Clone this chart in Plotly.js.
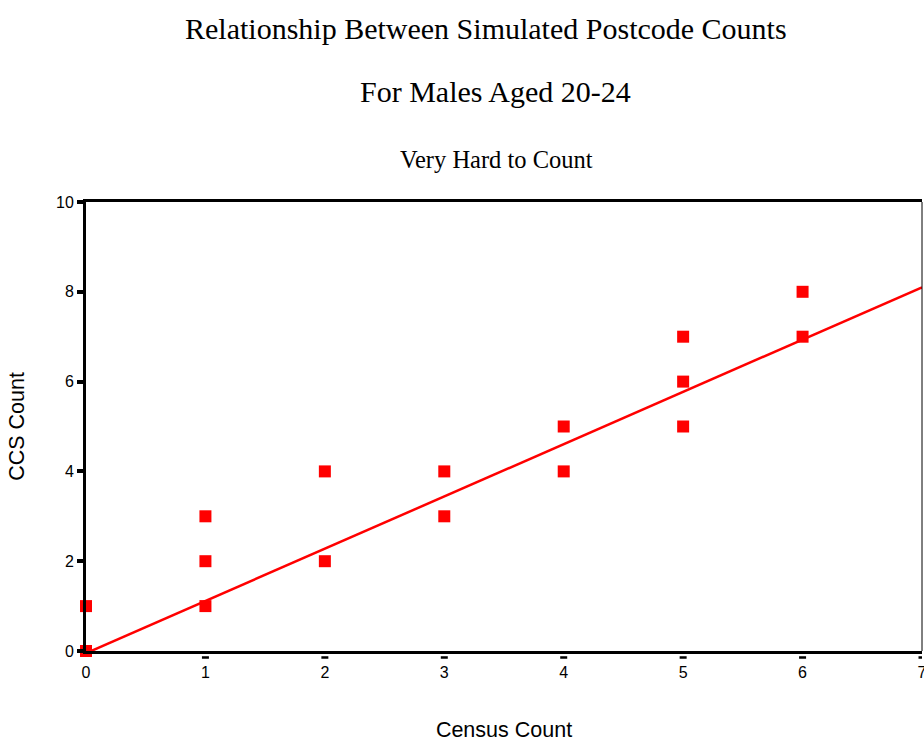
<!DOCTYPE html>
<html>
<head>
<meta charset="utf-8">
<script src="https://cdn.plot.ly/plotly-3.0.1.min.js"></script>
<style>html,body{margin:0;padding:0;background:#fff;}#chart{width:924px;height:742px;}</style>
</head>
<body>
<div id="chart"></div>
<script>
// Data
const censusCount = [0, 0, 1, 1, 1, 2, 2, 3, 3, 4, 4, 5, 5, 5, 6, 6];
const ccsCount    = [0, 1, 1, 2, 3, 2, 4, 3, 4, 4, 5, 5, 6, 7, 7, 8];
const fitX = [0, 7];
const fitY = [-0.05, 8.1];
const xTicks = [0, 1, 2, 3, 4, 5, 6, 7];
const yTicks = [0, 2, 4, 6, 8, 10];
const titleLines = ["Relationship Between Simulated Postcode Counts", "For Males Aged 20-24"];
const subtitle = "Very Hard to Count";

const W = 924, H = 742;
const margin = {l: 86, r: 2, t: 202, b: 91};
const plotW = W - margin.l - margin.r;
const plotH = H - margin.t - margin.b;
const xUnit = 7 / plotW;

const traces = [
  {
    x: fitX, y: fitY, mode: 'lines', type: 'scatter',
    line: {color: '#ff0000', width: 2.5}, hoverinfo: 'skip', cliponaxis: false
  },
  {
    x: censusCount, y: ccsCount, mode: 'markers', type: 'scatter',
    marker: {symbol: 'square', size: 12, color: '#ff0000', line: {width: 0}},
    cliponaxis: false
  }
];

// x tick dashes (horizontal) below axis, derived from tick array
const shapes = xTicks.filter(t => t > 0).map(t => ({
  type: 'line', xref: 'x', yref: 'paper',
  x0: t - 3.5 * xUnit, x1: t + 3.5 * xUnit,
  y0: -6.5 / plotH, y1: -6.5 / plotH,
  line: {color: '#000', width: 2.5}
}));
// thin right frame line
shapes.push({type: 'line', xref: 'paper', yref: 'paper', x0: 1, x1: 1, y0: 0, y1: 1,
  line: {color: '#000', width: 1}});

const serif = 'Liberation Serif, Times New Roman, serif';
const sans = 'Liberation Sans, Arial, sans-serif';

const layout = {
  width: W, height: H,
  margin: margin,
  paper_bgcolor: '#fff', plot_bgcolor: '#fff',
  showlegend: false,
  font: {family: sans, color: '#000'},
  xaxis: {
    range: [0, 7], tickvals: xTicks, ticktext: xTicks.map(String),
    showgrid: false, zeroline: false,
    showline: true, linewidth: 3, linecolor: '#000', mirror: true,
    ticks: 'outside', ticklen: 5, tickcolor: 'rgba(0,0,0,0)',
    ticklabeloverflow: 'allow',
    tickfont: {family: sans, size: 16, color: '#000'},
    title: {text: 'Census Count', font: {family: sans, size: 21.5, color: '#000'}, standoff: 44}
  },
  yaxis: {
    range: [0, 10], tickvals: yTicks, ticktext: yTicks.map(String),
    showgrid: false, zeroline: false,
    showline: true, linewidth: 3, linecolor: '#000', mirror: false,
    ticks: 'outside', ticklen: 6, tickwidth: 4, tickcolor: '#000',
    tickfont: {family: sans, size: 16, color: '#000'},
    title: {text: 'CCS Count', font: {family: sans, size: 21.5, color: '#000'}, standoff: 26}
  },
  shapes: shapes,
  annotations: [
    {text: titleLines[0], xref: 'paper', yref: 'paper', x: (486 - margin.l) / plotW, y: 1 + (202 - 28) / plotH,
     showarrow: false, xanchor: 'center', yanchor: 'middle', font: {family: serif, size: 30, color: '#000'}},
    {text: titleLines[1], xref: 'paper', yref: 'paper', x: (495 - margin.l) / plotW, y: 1 + (202 - 92) / plotH,
     showarrow: false, xanchor: 'center', yanchor: 'middle', font: {family: serif, size: 30, color: '#000'}},
    {text: subtitle, xref: 'paper', yref: 'paper', x: (496 - margin.l) / plotW, y: 1 + (202 - 160) / plotH,
     showarrow: false, xanchor: 'center', yanchor: 'middle', font: {family: serif, size: 24.5, color: '#000'}}
  ]
};

Plotly.newPlot('chart', traces, layout, {displayModeBar: false, staticPlot: true});
</script>
</body>
</html>
